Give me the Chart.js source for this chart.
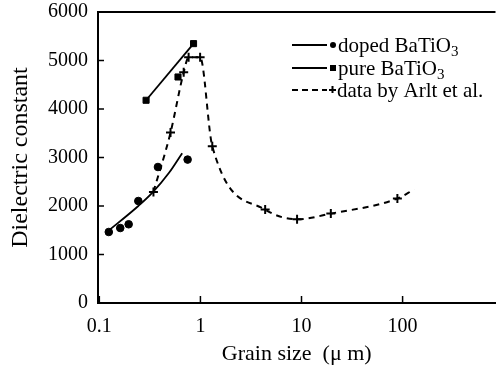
<!DOCTYPE html>
<html>
<head>
<meta charset="utf-8">
<script src="https://cdn.jsdelivr.net/npm/chart.js@4"></script>
<style>
  html, body { margin: 0; padding: 0; background: #fff; }
  #wrap { width: 502px; height: 368px; }
</style>
</head>
<body>
<div id="wrap"><canvas id="c"></canvas></div>
<script>
// values
var dopedX = [0.124, 0.161, 0.195, 0.243, 0.38, 0.747];
var dopedY = [1464, 1546, 1623, 2103, 2804, 2957];
var dopedFitX = [0.118, 0.243, 0.333, 0.487, 0.66];
var dopedFitY = [1458, 2000, 2270, 2680, 3090];
var pureX = [0.29, 0.60, 0.855];
var pureY = [4180, 4660, 5348];
var pureFitX = [0.29, 0.855];
var pureFitY = [4180, 5348];
var arltX = [0.343, 0.506, 0.683, 0.764, 0.993, 1.31, 4.37, 9.04, 19.5, 88.8, 130];
var arltY = [2289, 3513, 4757, 5066, 5066, 3231, 1926, 1726, 1843, 2153, 2340];
var xTicks = [0.1, 1, 10, 100];
var legendLabels = ['doped BaTiO', 'pure BaTiO', 'data by Arlt et al.'];

var FONT = "'Liberation Serif', 'DejaVu Serif', serif";

function pts(xs, ys) {
    return xs.map(function (x, i) { return { x: x, y: ys[i] }; });
}

// small inward tick marks, top frame line and the legend
var framePlugin = {
    id: 'frame',
    afterDraw: function (chart) {
        var ctx = chart.ctx;
        var a = chart.chartArea;
        var xs = chart.scales.x, ys = chart.scales.y;
        ctx.save();
        ctx.strokeStyle = '#000';
        ctx.lineWidth = 2;
        ctx.beginPath();
        ctx.moveTo(a.left, a.top);
        ctx.lineTo(a.right, a.top);
        ctx.stroke();
        ctx.lineWidth = 1.5;
        ys.ticks.forEach(function (t) {
            var py = ys.getPixelForValue(t.value);
            ctx.beginPath();
            ctx.moveTo(a.left, py);
            ctx.lineTo(a.left + 6, py);
            ctx.stroke();
        });
        xTicks.forEach(function (v) {
            var px = xs.getPixelForValue(v);
            ctx.beginPath();
            ctx.moveTo(px, a.bottom);
            ctx.lineTo(px, a.bottom - 7);
            ctx.stroke();
        });

        // legend
        var lx = 292, rows = [45, 68, 90];
        ctx.fillStyle = '#000';
        ctx.textBaseline = 'alphabetic';
        rows.forEach(function (ry, i) {
            ctx.lineWidth = 1.8;
            ctx.setLineDash(i === 2 ? [6, 4] : []);
            ctx.beginPath();
            ctx.moveTo(lx, ry);
            ctx.lineTo(lx + 35, ry);
            ctx.stroke();
            ctx.setLineDash([]);
            var mx = lx + 41;
            if (i === 0) {
                ctx.beginPath();
                ctx.arc(mx, ry, 3, 0, Math.PI * 2);
                ctx.fill();
            } else if (i === 1) {
                ctx.fillRect(mx - 3, ry - 3, 6, 6);
            } else {
                ctx.lineWidth = 2;
                ctx.beginPath();
                ctx.moveTo(mx - 4, ry); ctx.lineTo(mx + 3, ry);
                ctx.moveTo(mx - 0.5, ry - 4); ctx.lineTo(mx - 0.5, ry + 3);
                ctx.stroke();
            }
            var tx = i === 2 ? mx + 4 : mx + 5;
            ctx.font = '21px ' + FONT;
            ctx.fillText(legendLabels[i], tx, ry + 7);
            if (i < 2) {
                var w = ctx.measureText(legendLabels[i]).width;
                ctx.font = '15px ' + FONT;
                ctx.fillText('3', tx + w, ry + 11);
            }
        });
        ctx.restore();
    }
};

new Chart(document.getElementById('c'), {
    type: 'scatter',
    data: {
        datasets: [{
            data: pts(dopedFitX, dopedFitY),
            showLine: true,
            borderColor: '#000',
            borderWidth: 1.8,
            pointRadius: 0,
            cubicInterpolationMode: 'monotone'
        }, {
            data: pts(dopedX, dopedY),
            backgroundColor: '#000',
            borderColor: '#000',
            pointStyle: 'circle',
            pointRadius: 3.8
        }, {
            data: pts(pureFitX, pureFitY),
            showLine: true,
            borderColor: '#000',
            borderWidth: 1.8,
            pointRadius: 0
        }, {
            data: pts(pureX, pureY),
            backgroundColor: '#000',
            borderColor: '#000',
            pointStyle: 'rect',
            pointRadius: 4.3
        }, {
            data: pts(arltX, arltY),
            showLine: true,
            borderColor: '#000',
            borderWidth: 2,
            borderDash: [6, 5],
            cubicInterpolationMode: 'monotone',
            pointStyle: 'cross',
            pointRadius: arltX.map(function (x, i) { return i === arltX.length - 1 ? 0 : 4.5; }),
            pointBorderWidth: 2
        }]
    },
    options: {
        responsive: true,
        maintainAspectRatio: false,
        animation: false,
        layout: { padding: { top: 12, right: 1, left: 0, bottom: 0 } },
        plugins: {
            legend: { display: false },
            tooltip: { enabled: false }
        },
        scales: {
            x: {
                type: 'logarithmic',
                min: 0.097,
                max: 830,
                afterBuildTicks: function (s) {
                    s.ticks = xTicks.map(function (v) { return { value: v }; });
                },
                afterFit: function (s) { s.height = 65; },
                grid: { drawOnChartArea: false, drawTicks: false },
                border: { display: true, color: '#000', width: 2 },
                ticks: {
                    color: '#000',
                    padding: 12,
                    maxRotation: 0,
                    autoSkip: false,
                    font: { family: FONT, size: 20 },
                    callback: function (v) { return String(v); }
                },
                title: {
                    display: true,
                    text: 'Grain size  (\u03bc m)',
                    color: '#000',
                    font: { family: FONT, size: 22 },
                    padding: { top: 0, bottom: 1 }
                }
            },
            y: {
                min: 0,
                max: 6000,
                afterFit: function (s) {
                    s.width = 98;
                    s.paddingTop = 0;
                    s.paddingBottom = 0;
                },
                grid: { drawOnChartArea: false, drawTicks: false },
                border: { display: true, color: '#000', width: 2 },
                ticks: {
                    stepSize: 1000,
                    color: '#000',
                    padding: 10,
                    font: { family: FONT, size: 20 },
                    callback: function (v) { return String(v); }
                },
                title: {
                    display: true,
                    text: 'Dielectric constant',
                    color: '#000',
                    font: { family: FONT, size: 24 },
                    padding: { top: 6, bottom: 0 }
                }
            }
        }
    },
    plugins: [framePlugin]
});
</script>
</body>
</html>
